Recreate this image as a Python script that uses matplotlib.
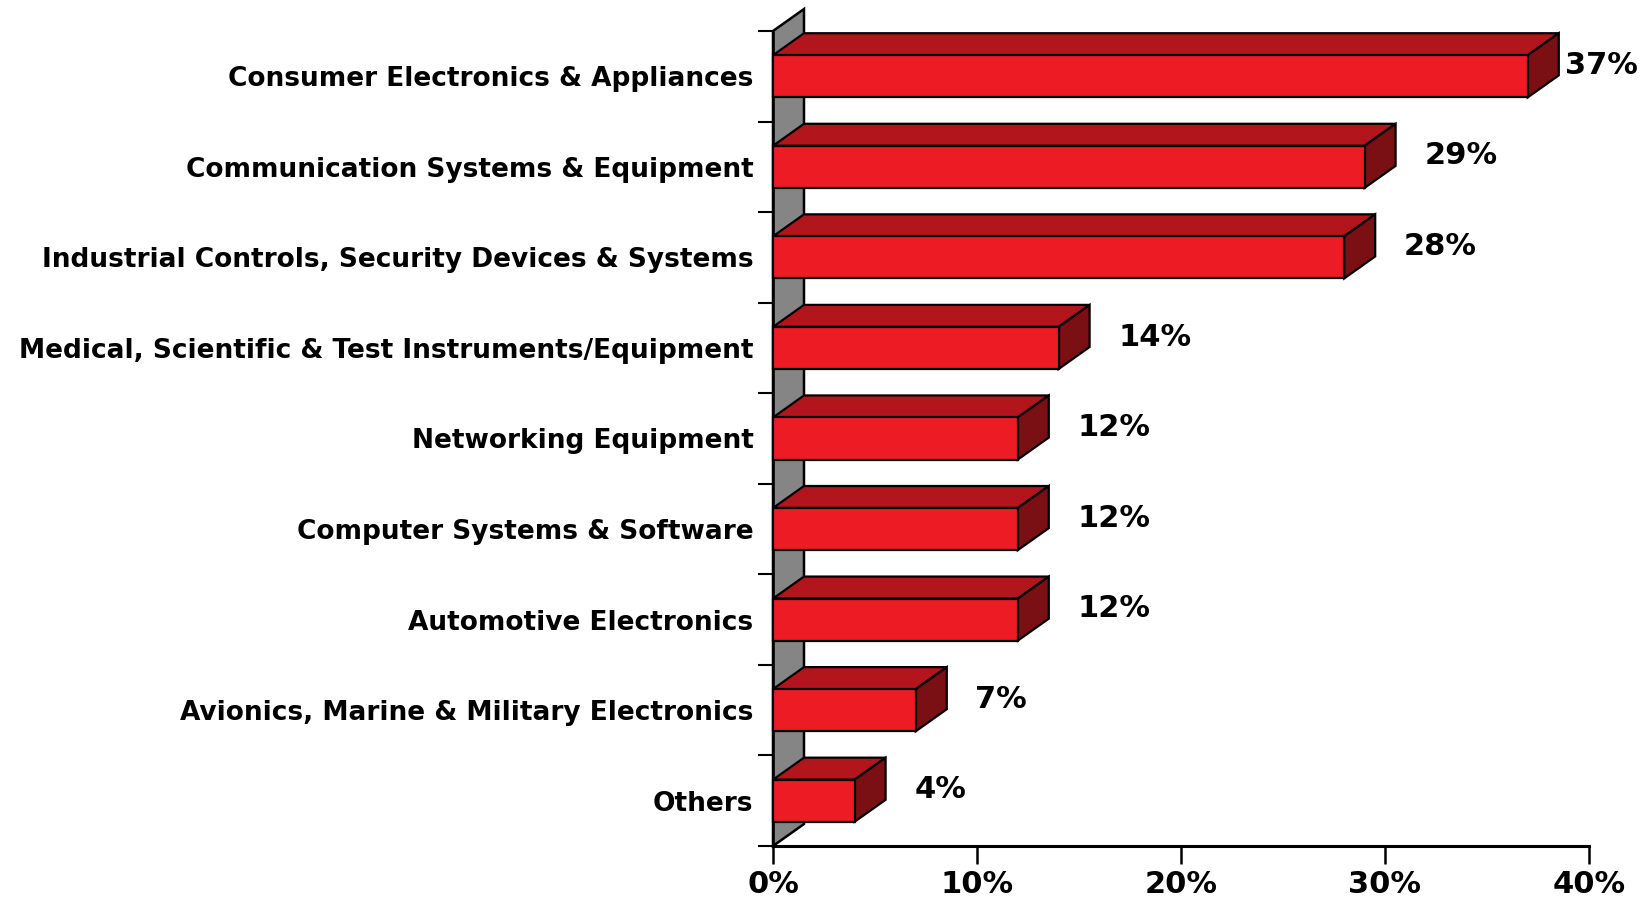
import matplotlib
matplotlib.use("Agg")
import matplotlib.pyplot as plt
from matplotlib.patches import Polygon

categories = [
    "Consumer Electronics & Appliances",
    "Communication Systems & Equipment",
    "Industrial Controls, Security Devices & Systems",
    "Medical, Scientific & Test Instruments/Equipment",
    "Networking Equipment",
    "Computer Systems & Software",
    "Automotive Electronics",
    "Avionics, Marine & Military Electronics",
    "Others",
]
values = [37, 29, 28, 14, 12, 12, 12, 7, 4]
value_labels = ["37%", "29%", "28%", "14%", "12%", "12%", "12%", "7%", "4%"]
x_ticks = [0, 10, 20, 30, 40]
x_tick_labels = ["0%", "10%", "20%", "30%", "40%"]

FRONT = "#ED1C24"
TOP = "#B2151B"
SIDE = "#7A1014"
WALL = "#858585"
FONT = ["DejaVu Sans"]

W, H = 1648, 899
fig = plt.figure(figsize=(W / 100, H / 100), dpi=100)
ax = fig.add_axes([773 / W, (H - 846) / H, (1589 - 773) / W, (846 - 31) / H])

n = len(categories)
ax.set_xlim(0, 40)
ax.set_ylim(0, n)

# depth offsets in data units
dx = 31 / ((1589 - 773) / 40)
dy = 22 / ((846 - 31) / n)
bh = 0.465

# back wall
wall = Polygon([(0, 0), (0, n), (dx, n + dy), (dx, dy)], closed=True,
               facecolor=WALL, edgecolor="black", lw=1.8, clip_on=False, zorder=1)
ax.add_patch(wall)

for i, (v, lab) in enumerate(zip(values, value_labels)):
    yc = n - 0.5 - i
    y0, y1 = yc - bh / 2, yc + bh / 2
    top = Polygon([(0, y1), (v, y1), (v + dx, y1 + dy), (dx, y1 + dy)], closed=True,
                  facecolor=TOP, edgecolor="black", lw=1.6, clip_on=False, zorder=3)
    side = Polygon([(v, y0), (v + dx, y0 + dy), (v + dx, y1 + dy), (v, y1)], closed=True,
                   facecolor=SIDE, edgecolor="black", lw=1.6, clip_on=False, zorder=3)
    front = Polygon([(0, y0), (v, y0), (v, y1), (0, y1)], closed=True,
                    facecolor=FRONT, edgecolor="black", lw=1.6, clip_on=False, zorder=4)
    for p in (top, side, front):
        ax.add_patch(p)
    lx = min(v + dx + 1.4, 38.8)
    ax.text(lx, yc + 0.12, lab, ha="left", va="center", fontsize=22,
            fontweight="bold", family=FONT, clip_on=False)

# axes styling
for s in ("top", "right"):
    ax.spines[s].set_visible(False)
ax.spines["left"].set_linewidth(1.8)
ax.spines["bottom"].set_linewidth(2.2)
ax.spines["left"].set_zorder(2)

ax.set_xticks(x_ticks)
ax.set_xticklabels(x_tick_labels, fontsize=22, fontweight="bold", family=FONT)
ax.tick_params(axis="x", direction="out", length=13, width=1.8, pad=4)

ax.set_yticks(range(n + 1))
ax.set_yticklabels([])
ax.tick_params(axis="y", which="major", direction="out", length=11, width=1.5)
ax.set_yticks([n - 0.5 - i for i in range(n)], minor=True)
ax.set_yticklabels(categories, minor=True, fontsize=19, fontweight="bold", family=FONT)
ax.tick_params(axis="y", which="minor", length=0, pad=14)

fig.savefig("out.png", dpi=100, facecolor="white")
